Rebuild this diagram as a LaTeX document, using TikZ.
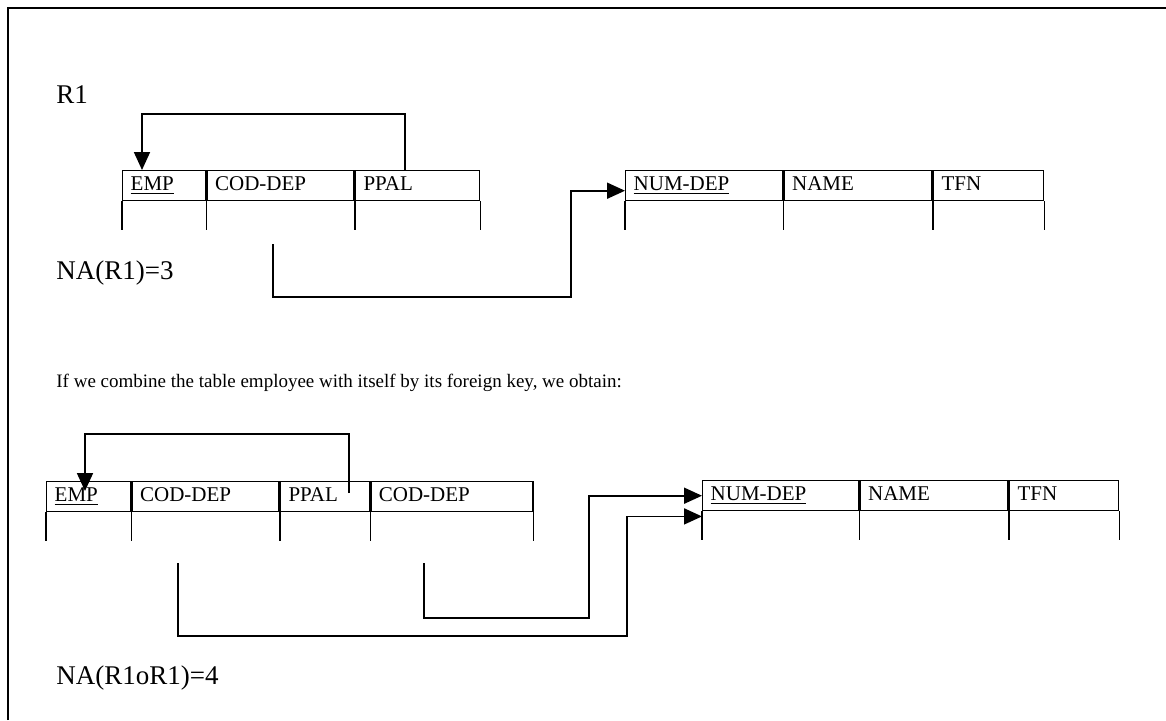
\documentclass[tikz,border=0pt]{standalone}
\usepackage{fontspec}
\setmainfont{Liberation Serif}
\usetikzlibrary{arrows.meta}
\begin{document}
\begin{tikzpicture}[x=0.5pt,y=-0.5pt,
  cell/.style={draw, line width=0.7pt, anchor=north west, inner xsep=4pt, inner ysep=0pt,
    minimum height=15pt, text height=7.4pt, text depth=2.4pt, align=left,
    font=\fontsize{10.5}{12}\selectfont},
  vline/.style={line width=0.7pt},
  arr/.style={line width=0.9pt, -{Triangle[length=9pt,width=8pt]}},
  lbl/.style={anchor=west, inner sep=0pt, font=\fontsize{13.5}{16}\selectfont},
  sent/.style={anchor=west, inner sep=0pt, font=\fontsize{9.5}{11}\selectfont}]
\useasboundingbox (0,0) rectangle (1166,720);
% frame
\draw[line width=1.1pt] (8,720) -- (8,8) -- (1166,8);

% ---- upper part ----
\node[lbl] (r1) at (56,95) {R1};
% table R1
\node[cell, text width=33.5pt] (t1a) at (122,170) {\underline{EMP}};
\node[cell, text width=65.5pt] (t1b) at (t1a.north east) {COD-DEP};
\node[cell, text width=54pt]   (t1c) at (t1b.north east) {PPAL};
\foreach \n in {t1a,t1b,t1c} \draw[vline] (\n.south west) -- ++(0,29);
\draw[vline] (t1c.south east) -- ++(0,29);
% table department
\node[cell, text width=70.5pt] (t2a) at (625,170) {\underline{NUM-DEP}};
\node[cell, text width=66pt]   (t2b) at (t2a.north east) {NAME};
\node[cell, text width=47pt]   (t2c) at (t2b.north east) {TFN};
\foreach \n in {t2a,t2b,t2c} \draw[vline] (\n.south west) -- ++(0,29);
\draw[vline] (t2c.south east) -- ++(0,29);
% connectors
\coordinate (l1s) at (405,170);
\draw[arr] (l1s) |- (142,114) -- (142,170);
\coordinate (c1s) at (273,244);
\draw[arr] (c1s) |- (571,297) |- ([yshift=-2.5pt]t2a.west);
\node[lbl] (na1) at (56,273) {NA(R1)=3};

\node[sent] (txt) at (56,383) {If we combine the table employee with itself by its foreign key, we obtain:};

% ---- lower part ----
\node[cell, text width=34pt]   (t3a) at (46,481) {\underline{EMP}};
\node[cell, text width=65.5pt] (t3b) at (t3a.north east) {COD-DEP};
\node[cell, text width=36.5pt] (t3c) at (t3b.north east) {PPAL};
\node[cell, text width=73pt]   (t3d) at (t3c.north east) {COD-DEP};
\foreach \n in {t3a,t3b,t3c,t3d} \draw[vline] (\n.south west) -- ++(0,29);
\draw[vline] (t3d.south east) -- ++(0,29);
\node[cell, text width=70pt]   (t4a) at (702,480) {\underline{NUM-DEP}};
\node[cell, text width=66pt]   (t4b) at (t4a.north east) {NAME};
\node[cell, text width=46.5pt] (t4c) at (t4b.north east) {TFN};
\foreach \n in {t4a,t4b,t4c} \draw[vline] (\n.south west) -- ++(0,29);
\draw[vline] (t4c.south east) -- ++(0,29);
\coordinate (l2s) at (349,493);
\draw[arr] (l2s) |- (85,434) -- (85,491);
\coordinate (c2s) at (424,563);
\draw[arr] (c2s) |- (589,618) |- (t4a.west);
\coordinate (c3s) at (178,563);
\draw[arr] (c3s) |- (627,636) |- ([yshift=-2.5pt]t4a.south west);
\node[lbl] (na2) at (56,678) {NA(R1oR1)=4};
\end{tikzpicture}
\end{document}
